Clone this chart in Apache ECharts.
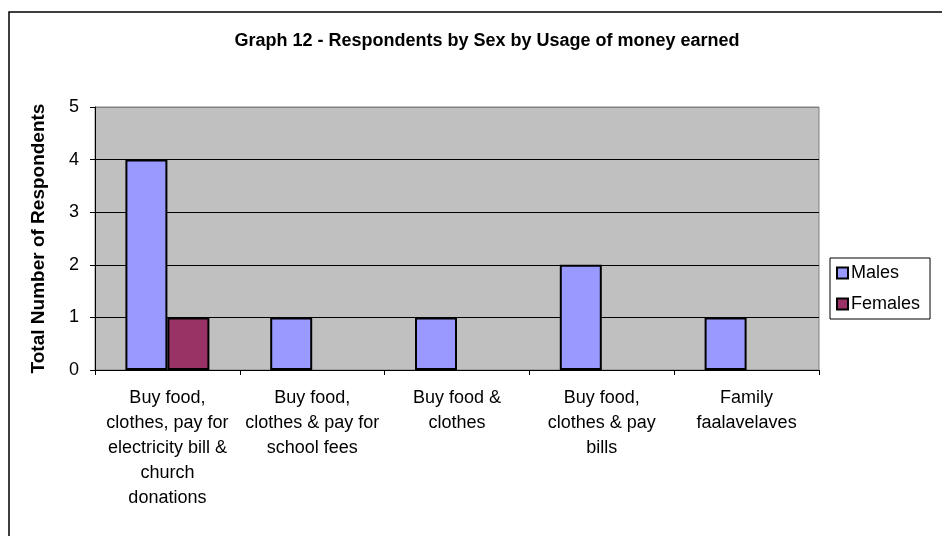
<!DOCTYPE html>
<html>
<head>
<meta charset="utf-8">
<script src="https://cdn.jsdelivr.net/npm/echarts@6/dist/echarts.min.js"></script>
<style>
  html, body { margin: 0; padding: 0; background: #fff; }
  #chart { width: 943px; height: 536px; }
</style>
</head>
<body>
<div id="chart"></div>
<script>
var categories = [
    'Buy food,\nclothes, pay for\nelectricity bill &\nchurch\ndonations',
    'Buy food,\nclothes & pay for\nschool fees',
    'Buy food &\nclothes',
    'Buy food,\nclothes & pay\nbills',
    'Family\nfaalavelaves'
];
var males = [4, 1, 1, 2, 1];
var females = [1, '-', '-', '-', '-'];
var yTicks = [0, 1, 2, 3, 4, 5];

var font = 'Arial, "Liberation Sans", sans-serif';
var chart = echarts.init(document.getElementById('chart'));

var option = {
    animation: false,
    backgroundColor: '#fff',
    textStyle: { fontFamily: font },
    title: {
        text: 'Graph 12 - Respondents by Sex by Usage of money earned',
        left: 482,
        top: 27,
        textAlign: 'center',
        textStyle: { fontFamily: font, fontSize: 18, fontWeight: 'bold', color: '#000' }
    },
    legend: {
        orient: 'vertical',
        left: 830,
        top: 258,
        padding: [6, 10, 6, 6],
        itemWidth: 11,
        itemHeight: 11,
        itemGap: 13,
        backgroundColor: '#fff',
        borderColor: '#000',
        borderWidth: 1,
        icon: 'rect',
        textStyle: { fontFamily: font, fontSize: 18, color: '#000', padding: [0, 0, 0, -2] },
        data: ['Males', 'Females']
    },
    grid: {
        left: 95,
        top: 107,
        right: 124,
        bottom: 166,
        show: true,
        backgroundColor: '#C0C0C0',
        borderColor: '#808080',
        borderWidth: 1
    },
    xAxis: {
        type: 'category',
        data: categories,
        axisLine: { lineStyle: { color: '#000', width: 1 } },
        axisTick: { show: true, length: 5, lineStyle: { color: '#000' } },
        axisLabel: {
            interval: 0,
            margin: 16,
            fontFamily: font,
            fontSize: 18,
            lineHeight: 25,
            color: '#000',
            align: 'center'
        }
    },
    yAxis: {
        type: 'value',
        min: yTicks[0],
        max: yTicks[yTicks.length - 1],
        interval: 1,
        name: 'Total Number of Respondents',
        nameLocation: 'middle',
        nameRotate: 90,
        nameGap: 47,
        nameTextStyle: { fontFamily: font, fontSize: 19, fontWeight: 'bold', color: '#000' },
        axisLine: { show: true, lineStyle: { color: '#000', width: 1 } },
        axisTick: { show: true, length: 5, lineStyle: { color: '#000' } },
        axisLabel: { margin: 16, fontFamily: font, fontSize: 18, color: '#000' },
        splitLine: {
            show: true,
            // top line is the gray plot border, not a black gridline
            lineStyle: { color: ['#000', '#000', '#000', '#000', '#000', '#808080'], width: 1 }
        }
    },
    series: [
        {
            name: 'Males',
            type: 'bar',
            data: males,
            barWidth: 42,
            barGap: 0,
            itemStyle: { color: '#9999FF', borderColor: '#000', borderWidth: 2 }
        },
        {
            name: 'Females',
            type: 'bar',
            data: females,
            barWidth: 42,
            barGap: 0,
            itemStyle: { color: '#993366', borderColor: '#000', borderWidth: 2 }
        }
    ],
    graphic: [
        {
            type: 'polyline',
            silent: true,
            shape: { points: [[9, 536], [9, 12], [942, 12]] },
            style: { stroke: '#000', lineWidth: 1.5, fill: null }
        }
    ]
};

chart.setOption(option);
</script>
</body>
</html>
